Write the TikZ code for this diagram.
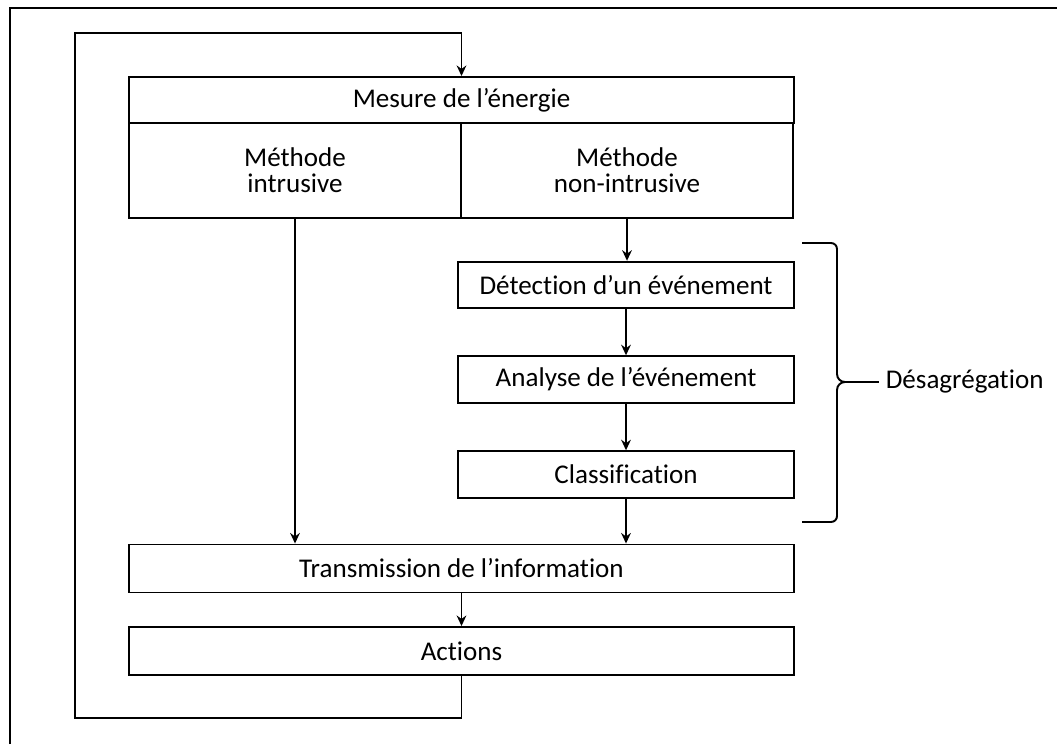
\documentclass[tikz,border=0pt]{standalone}
\usepackage{fontspec}
\setmainfont{Carlito}[Ligatures=NoCommon]
\usepackage{tikz}
\usetikzlibrary{arrows.meta,positioning}

\begin{document}
\begin{tikzpicture}[x=0.02cm, y=-0.02cm, line width=1.1pt,
  >={Stealth[length=6pt,width=5.5pt]},
  every node/.style={font=\fontsize{15.4}{14.8}\selectfont},
  box/.style={rectangle,draw,line width=1.1pt,inner sep=0pt,minimum height=0.96cm},
  wide/.style={box,minimum width=13.3cm},
  meth/.style={box,minimum width=6.64cm,minimum height=1.9cm,align=center},
  stepbox/.style={box,minimum width=6.72cm,minimum height=0.93cm}]
  \useasboundingbox (0,0) rectangle (1057,744);
  % cadre
  \draw (10,744) -- (10,8) -- (1057,8);
  % boites
  \node[wide,minimum height=0.92cm] (mesure) at (461.5,100) {Mesure de l’énergie};
  \node[meth] (intr) at (295,170.5) {Méthode\\intrusive};
  \node[meth] (nonintr) at (627,170.5) {Méthode\\non-intrusive};
  \node[stepbox] (detect) at (626,285) {Détection d’un événement};
  \node[stepbox] (analyse) at (626,379.5) {Analyse de l’événement};
  \node[stepbox] (classif) at (626,474.5) {Classification};
  \node[wide] (transm) at (461.5,568.5) {Transmission de l’information};
  \node[wide] (actions) at (461.5,651) {Actions};
  \node[anchor=west] (desag) at (879,382) {Désagrégation};
  % fleches
  \draw[->] (intr.south) -- (intr.south |- transm.north);
  \draw[->] (nonintr.south) -- (nonintr.south |- detect.north);
  \draw[->] (detect.south) -- (analyse.north);
  \draw[->] (analyse.south) -- (classif.north);
  \draw[->] (classif.south) -- (classif.south |- transm.north);
  \draw[->] (transm.south) -- (actions.north);
  % boucle
  \coordinate (loopbl) at (75,718);
  \coordinate (looptl) at (75,33);
  \draw[->] (actions.south) |- (loopbl) -- (looptl) -| (mesure.north);
  % accolade
  \coordinate (bracetop) at (802,243);
  \coordinate (bracebot) at (802,522);
  \coordinate (bracetip) at (845,382);
  \draw (bracetop) -- (831,243) to[out=0,in=90] (837,249) -- (837,374)
    to[out=-90,in=180] (bracetip) to[out=180,in=90] (837,390) -- (837,516)
    to[out=-90,in=0] (831,522) -- (bracebot);
  \draw (bracetip) -- (desag.west);
\end{tikzpicture}
\end{document}
